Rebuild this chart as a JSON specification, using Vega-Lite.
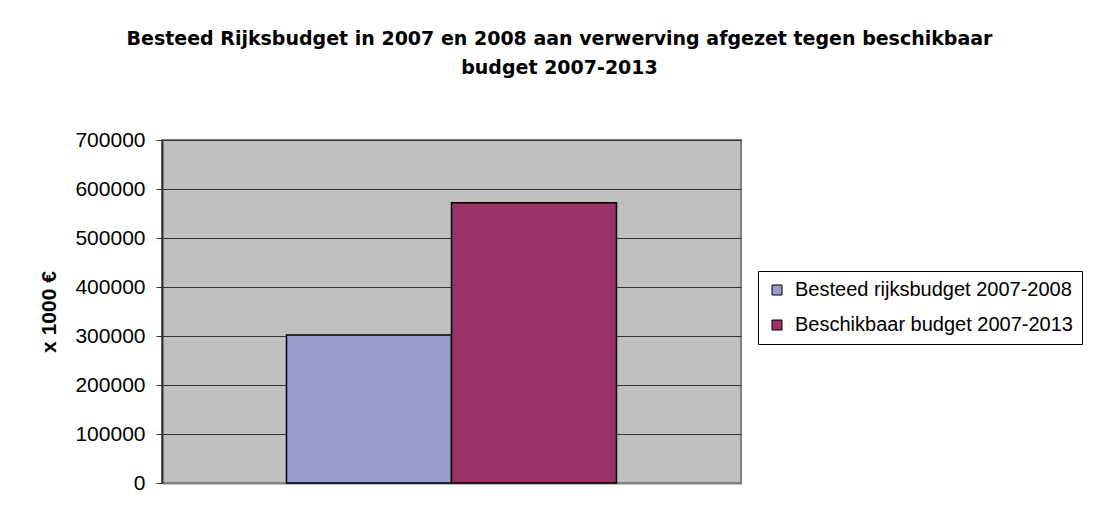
{
  "$schema": "https://vega.github.io/schema/vega-lite/v6.json",
  "autosize": "none",
  "width": 579,
  "height": 343,
  "padding": {"left": 162, "top": 140, "right": 354, "bottom": 32},
  "background": "white",
  "config": {
    "font": "Liberation Sans",
    "view": {"fill": "#C0C0C0", "stroke": "#808080", "strokeWidth": 2}
  },
  "title": {
    "text": ["Besteed Rijksbudget in 2007 en 2008 aan verwerving afgezet tegen beschikbaar", "budget 2007-2013"],
    "font": "DejaVu Sans",
    "fontSize": 19,
    "fontWeight": "bold",
    "color": "black",
    "anchor": "middle",
    "frame": "group",
    "dx": 108,
    "offset": 51,
    "lineHeight": 29
  },
  "data": {
    "values": [
      {"serie": "Besteed rijksbudget 2007-2008", "waarde": 302000},
      {"serie": "Beschikbaar budget 2007-2013", "waarde": 572000}
    ]
  },
  "mark": {"type": "bar", "stroke": "black", "strokeWidth": 1.5},
  "encoding": {
    "x": {
      "field": "serie",
      "type": "nominal",
      "sort": null,
      "scale": {"paddingInner": 0, "paddingOuter": 0.7545},
      "axis": {"labels": false, "ticks": false, "title": null, "domainColor": "#808080", "domainWidth": 2}
    },
    "y": {
      "field": "waarde",
      "type": "quantitative",
      "scale": {"domain": [0, 700000]},
      "axis": {
        "values": [0, 100000, 200000, 300000, 400000, 500000, 600000, 700000],
        "format": "d",
        "title": "x 1000 €",
        "titleFont": "Liberation Sans",
        "titleFontSize": 21,
        "titleFontWeight": "bold",
        "titleColor": "black",
        "titlePadding": 15,
        "labelFont": "Liberation Sans",
        "labelFontSize": 21,
        "labelColor": "black",
        "labelPadding": 11,
        "tickSize": 6,
        "tickColor": "#333333",
        "domainColor": "#333333",
        "domainWidth": 2,
        "gridColor": "#333333",
        "gridWidth": 1,
        "gridOpacity": 1
      }
    },
    "color": {
      "field": "serie",
      "type": "nominal",
      "sort": null,
      "scale": {"range": ["#9999CC", "#993366"]},
      "legend": {
        "title": null,
        "orient": "none",
        "legendX": 596,
        "legendY": 131,
        "symbolType": "square",
        "symbolSize": 100,
        "symbolStrokeColor": "black",
        "symbolStrokeWidth": 1,
        "labelFont": "Liberation Sans",
        "labelFontSize": 20,
        "labelColor": "black",
        "labelOffset": 8,
        "labelLimit": 400,
        "rowPadding": 15,
        "padding": 9,
        "strokeColor": "black",
        "fillColor": "white"
      }
    }
  }
}
